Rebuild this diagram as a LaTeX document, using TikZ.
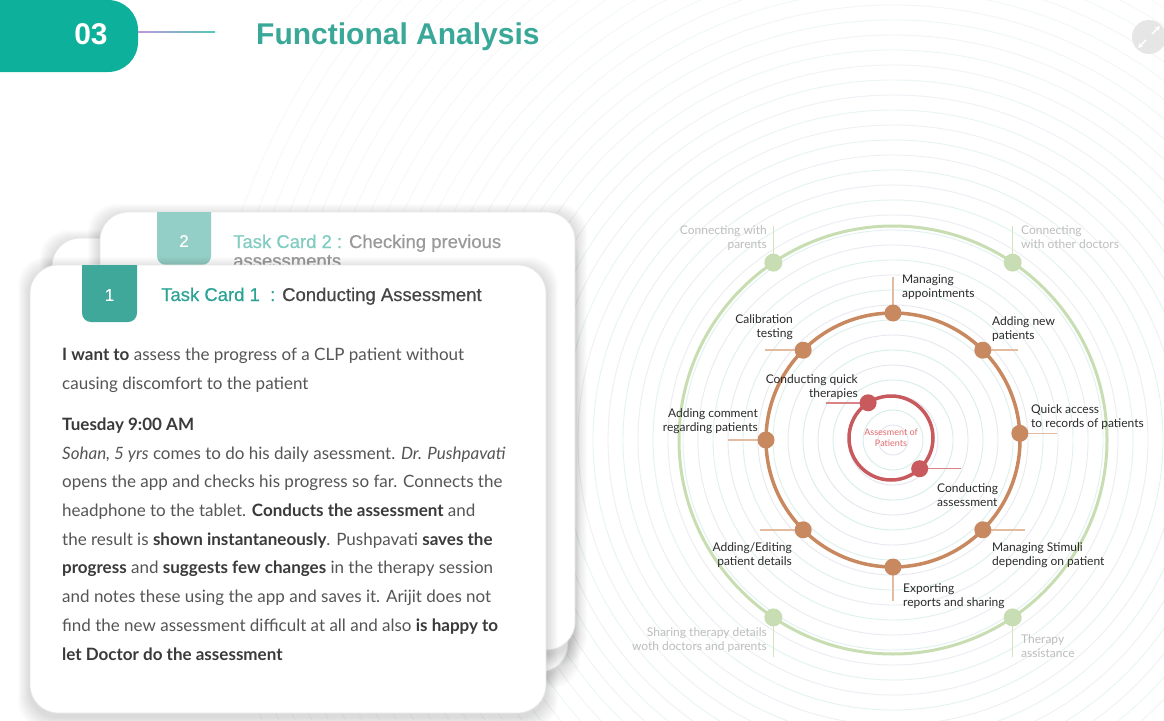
\documentclass[tikz,border=0pt]{standalone}
\usepackage{fontspec}
\setmainfont{Lato}
\newfontfamily\arialf{Liberation Sans}
\newfontfamily\arialmed[FakeBold=0.5]{Liberation Sans}
\usetikzlibrary{calc,arrows.meta}

\definecolor{hdrteal}{HTML}{0CB09B}
\definecolor{titleteal}{HTML}{3AA898}
\definecolor{tabone}{HTML}{3FA89B}
\definecolor{tabtwo}{HTML}{93CFC6}
\definecolor{cardoneteal}{HTML}{2AA394}
\definecolor{cardtwoteal}{HTML}{80CCC0}
\definecolor{cardtwogrey}{HTML}{9A9A9A}
\definecolor{cardonegrey}{HTML}{454545}
\definecolor{cardedge}{HTML}{E6E6E6}
\definecolor{ringA}{HTML}{D3EDEA}
\definecolor{ringB}{HTML}{E3E3EE}
\definecolor{greenring}{HTML}{C8DEB2}
\definecolor{greendot}{HTML}{C9DDB5}
\definecolor{greenlead}{HTML}{D2E3C2}
\definecolor{orangering}{HTML}{C88860}
\definecolor{orangelead}{HTML}{E3BBA0}
\definecolor{redring}{HTML}{C85A5E}
\definecolor{redlead}{HTML}{D98588}
\definecolor{redtext}{HTML}{E06A6A}
\definecolor{labeldark}{HTML}{2A2A2A}
\definecolor{labelgrey}{HTML}{BDBDBD}
\definecolor{bodygrey}{HTML}{555555}
\definecolor{bodydark}{HTML}{3A3A3A}
\definecolor{iconbg}{HTML}{E6E6E6}

% bold highlight inside the scenario text
\newcommand\hb[1]{{\bfseries\color{bodydark}#1}}

% white card with a soft shadow: x1, y1, x2, y2
\newcommand\softcard[4]{%
  \foreach \k in {1,...,12}{%
    \fill[black,opacity=0.011,rounded corners=28pt] (#1-\k,#2-\k+4) rectangle (#3+\k,#4+\k+4);}
  \filldraw[fill=white,draw=cardedge,line width=0.8pt,rounded corners=28pt] (#1,#2) rectangle (#3,#4);}

\tikzset{
  lbl/.style={inner sep=0pt,font=\fontsize{12}{14}\selectfont,text=labeldark},
  lblgrey/.style={lbl,text=labelgrey},
  gdot/.style={circle,fill=greendot,minimum size=18pt,inner sep=0pt},
  odot/.style={circle,fill=orangering,minimum size=17pt,inner sep=0pt},
  rdot/.style={circle,fill=redring,minimum size=17pt,inner sep=0pt},
  glead/.style={draw=greenlead,line width=1.5pt},
  olead/.style={draw=orangelead,line width=1.5pt},
  rlead/.style={draw=redlead,line width=1.5pt},
  tabnum/.style={inner sep=0pt,text=white,font=\arialmed\fontsize{17}{17}\selectfont},
  cardtitle/.style={inner sep=0pt,anchor=base west,font=\arialmed\fontsize{18.5}{19}\selectfont},
}

\begin{document}
\begin{tikzpicture}[x=1pt,y=-1pt]
\useasboundingbox (0,0) rectangle (1164,720);
\fill[white] (0,0) rectangle (1164,720);

% faint concentric rings behind everything
\begin{scope}
\clip (0,0) rectangle (1164,720);
\foreach \r [count=\i] in {15,30,...,690}{
  \pgfmathsetmacro\op{max(0.25,1-\r/700)}
  \pgfmathparse{mod(\i,2)==0?1:0}
  \ifnum\pgfmathresult=1
    \draw[ringA,line width=0.9pt,opacity=\op] (893,440) circle[radius=\r pt];
  \else
    \draw[ringB,line width=0.9pt,opacity=\op] (893,440) circle[radius=\r pt];
  \fi
}
\end{scope}

% header
\fill[hdrteal,rounded corners=30pt] (-40,0) rectangle (138,72);
\shade[left color=purple!45!blue!40,right color=hdrteal!70] (138,31.3) rectangle (215,32.7);
\node[inner sep=0pt,text=white,font=\arialf\bfseries\fontsize{30}{30}\selectfont,anchor=base] (num) at (91,44) {03};
\node[inner sep=0pt,text=titleteal,font=\arialf\bfseries\fontsize{30}{30}\selectfont,anchor=base west] (title) at (256,44) {Functional Analysis};

% expand icon
\node[circle,fill=iconbg,minimum size=34pt,inner sep=0pt] (icon) at (1149,37) {};
\coordinate (iconA) at (1152,34);
\coordinate (iconB) at (1146,40);
\draw[white,line width=1.6pt,-{Stealth[length=5pt,width=5pt]}] (iconA) -- ++(8,-8);
\draw[white,line width=1.6pt,-{Stealth[length=5pt,width=5pt]}] (iconB) -- ++(-8,8);

% stacked task cards (multi-line nodes are anchored on their last baseline)
\softcard{52}{238}{568}{672}
\softcard{100}{212}{575}{650}
\fill[tabtwo,rounded corners=9pt] (157,212) -- (157,265) -- (211,265) -- (211,212);
\node[tabnum] (tabtwonum) at (184,241) {2};
\node[cardtitle,align=left,text=cardtwogrey] (cardtwotitle) at (233,267)
  {\textcolor{cardtwoteal}{Task Card 2 :} Checking previous\\assessments};

\softcard{30}{265}{546}{713}
\fill[tabone,rounded corners=9pt] (82,265) -- (82,322) -- (137,322) -- (137,265);
\node[tabnum] (tabonenum) at (109.5,295) {1};
\node[cardtitle,text=cardonegrey] (cardonetitle) at (161,301)
  {\textcolor{cardoneteal}{Task Card 1\ \ :} Conducting Assessment};

\node[inner sep=0pt,anchor=base west,align=left,text=bodygrey,font=\fontsize{17}{28.7}\selectfont] (scenario) at (62,660)
  {\hb{I want to} assess the progress of a CLP patient without\\
   causing discomfort to the patient\\[12.3pt]
   \hb{Tuesday 9:00 AM}\\
   \textit{Sohan, 5 yrs} comes to do his daily asessment. \textit{Dr. Pushpavati}\\
   opens the app and checks his progress so far. Connects the\\
   headphone to the tablet. \hb{Conducts the assessment} and\\
   the result is \hb{shown instantaneously}. Pushpavati \hb{saves the}\\
   \hb{progress} and \hb{suggests few changes} in the therapy session\\
   and notes these using the app and saves it. Arijit does not\\
   find the new assessment difficult at all and also \hb{is happy to}\\
   \hb{let Doctor do the assessment}};

% ring diagram
\coordinate (C) at (893,440);
\coordinate (Cr) at (891,438);
\draw[greenring,line width=3pt] (C) circle[radius=214pt];
\draw[orangering,line width=3.5pt] (C) circle[radius=127pt];
\draw[redring,line width=3.5pt] (Cr) circle[radius=42pt];

\coordinate (g1) at ($(C)+(-124:214)$);
\coordinate (g2) at ($(C)+(-56:214)$);
\coordinate (g3) at ($(C)+(124:214)$);
\coordinate (g4) at ($(C)+(56:214)$);
\coordinate (oN) at ($(C)+(-90:127)$);
\coordinate (oNE) at ($(C)+(-45:127)$);
\coordinate (oE) at ($(C)+(-3:127)$);
\coordinate (oSE) at ($(C)+(45:127)$);
\coordinate (oS) at ($(C)+(90:127)$);
\coordinate (oSW) at ($(C)+(135:127)$);
\coordinate (oW) at ($(C)+(180:127)$);
\coordinate (oNW) at ($(C)+(-135:127)$);
\coordinate (rA) at ($(Cr)+(-123:42)$);
\coordinate (rB) at ($(Cr)+(47:42)$);

% leader lines
\draw[glead] (g1) -- ++(0,-37);
\draw[glead] (g2) -- ++(0,-37);
\draw[glead] (g3) -- ++(0,40);
\draw[glead] (g4) -- ++(0,40);
\draw[olead] (oN) -- ++(0,-36);
\draw[olead] (oNE) -- ++(35,0);
\draw[olead] (oE) -- ++(37,0);
\draw[olead] (oSE) -- ++(42,0);
\draw[olead] (oS) -- ++(0,34);
\draw[olead] (oSW) -- ++(-43,0);
\draw[olead] (oW) -- ++(-38,0);
\draw[olead] (oNW) -- ++(-38,0);
\draw[rlead] (rA) -- ++(-42,0);
\draw[rlead] (rB) -- ++(41,0);

% dots
\foreach \p in {g1,g2,g3,g4}{\node[gdot] (\p dot) at (\p) {};}
\foreach \p in {oN,oNE,oE,oSE,oS,oSW,oW,oNW}{\node[odot] (\p dot) at (\p) {};}
\foreach \p in {rA,rB}{\node[rdot] (\p dot) at (\p) {};}

% labels (two-line nodes, anchored on the second baseline)
\node[lblgrey,anchor=base east,align=right] (lg1) at (767,248) {Connecting with\\parents};
\node[lblgrey,anchor=base west,align=left] (lg2) at (1021,248) {Connecting\\with other doctors};
\node[lblgrey,anchor=base east,align=right] (lg3) at (767,650) {Sharing therapy details\\woth doctors and parents};
\node[lblgrey,anchor=base west,align=left] (lg4) at (1021,657) {Therapy\\assistance};

\node[lbl,anchor=base west,align=left] (loN) at (902,297) {Managing\\appointments};
\node[lbl,anchor=base east,align=right] (loNW) at (793,337) {Calibration\\testing};
\node[lbl,anchor=base west,align=left] (loNE) at (992,339) {Adding new\\patients};
\node[lbl,anchor=base east,align=right] (loW) at (758,431) {Adding comment\\regarding patients};
\node[lbl,anchor=base west,align=left] (loE) at (1031,427) {Quick access\\to records of patients};
\node[lbl,anchor=base west,align=left] (loSE) at (992,565) {Managing Stimuli\\depending on patient};
\node[lbl,anchor=base west,align=left] (loS) at (903,606) {Exporting\\reports and sharing};
\node[lbl,anchor=base east,align=right] (loSW) at (792,565) {Adding/Editing\\patient details};

\node[lbl,anchor=base east,align=right] (lrA) at (858,397) {Conducting quick\\therapies};
\node[lbl,anchor=base west,align=left] (lrB) at (937,506) {Conducting\\assessment};

\node[inner sep=0pt,align=center,text=redtext,font=\fontsize{9}{11.5}\selectfont] (centre) at (Cr) {Assesment of\\Patients};
\end{tikzpicture}
\end{document}
